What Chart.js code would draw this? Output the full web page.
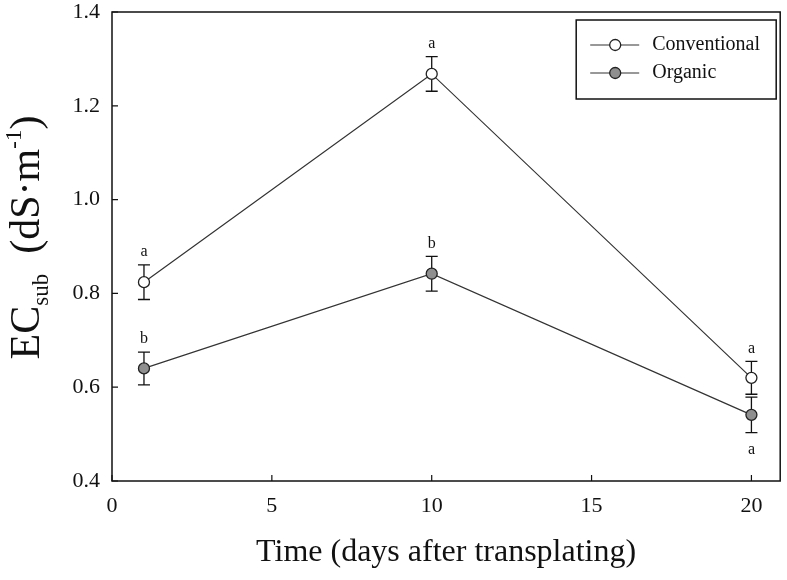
<!DOCTYPE html>
<html>
<head>
<meta charset="utf-8">
<script src="https://cdn.jsdelivr.net/npm/chart.js@4.4.0/dist/chart.umd.min.js"></script>
<style>
  html, body { margin: 0; padding: 0; background: #fff; }
</style>
</head>
<body>
<canvas id="chart" width="787" height="580"></canvas>
<script>
// values
const days = [1, 10, 20];
const conventional = [0.824, 1.268, 0.620];
const conventionalErr = [0.037, 0.037, 0.035];
const conventionalLetters = ['a', 'a', 'a'];
const organic = [0.640, 0.842, 0.541];
const organicErr = [0.035, 0.037, 0.038];
const organicLetters = ['b', 'b', 'a'];
const xTicks = [0, 5, 10, 15, 20];
const yTicks = [0.4, 0.6, 0.8, 1.0, 1.2, 1.4];

const SERIF = '"Liberation Serif", "DejaVu Serif", serif';
const INK = '#111';

function points(ys) {
    return days.map((d, i) => ({ x: d, y: ys[i] }));
}

// error bars + significance letters
const errorBars = {
    id: 'errorBars',
    beforeDatasetsDraw(chart) {
        const { ctx, scales: { x, y } } = chart;
        ctx.save();
        ctx.strokeStyle = INK;
        ctx.lineWidth = 1.3;
        chart.data.datasets.forEach(ds => {
            ds.data.forEach((p, i) => {
                const px = x.getPixelForValue(p.x);
                const top = y.getPixelForValue(p.y + ds.err[i]);
                const bot = y.getPixelForValue(p.y - ds.err[i]);
                ctx.beginPath();
                ctx.moveTo(px, top); ctx.lineTo(px, bot);
                ctx.moveTo(px - 6, top); ctx.lineTo(px + 6, top);
                ctx.moveTo(px - 6, bot); ctx.lineTo(px + 6, bot);
                ctx.stroke();
            });
        });
        ctx.restore();
    },
    afterDatasetsDraw(chart) {
        const { ctx, scales: { x, y } } = chart;
        const sets = chart.data.datasets;
        ctx.save();
        ctx.fillStyle = INK;
        ctx.font = '16px ' + SERIF;
        ctx.textAlign = 'center';
        ctx.textBaseline = 'middle';
        sets.forEach((ds, k) => {
            ds.data.forEach((p, i) => {
                const px = x.getPixelForValue(p.x);
                const top = y.getPixelForValue(p.y + ds.err[i]);
                const bot = y.getPixelForValue(p.y - ds.err[i]);
                // lower series: put letter underneath if its bar runs into the other point
                const other = sets[1 - k].data[i];
                const crowded = other.y > p.y && y.getPixelForValue(other.y) > top - 22;
                const ly = crowded ? bot + 17 : top - 13;
                ctx.fillText(ds.letters[i], px, ly);
            });
        });
        ctx.restore();
    }
};

// frame, inner ticks, axis titles, legend
const decor = {
    id: 'decor',
    afterDraw(chart) {
        const { ctx, chartArea: a, scales: { x, y } } = chart;
        ctx.save();
        ctx.strokeStyle = INK;
        ctx.lineWidth = 1.5;
        ctx.strokeRect(a.left, a.top, a.right - a.left, a.bottom - a.top);

        ctx.lineWidth = 1.2;
        ctx.beginPath();
        xTicks.forEach(v => {
            const px = x.getPixelForValue(v);
            ctx.moveTo(px, a.bottom); ctx.lineTo(px, a.bottom - 6);
        });
        yTicks.forEach(v => {
            const py = y.getPixelForValue(v);
            ctx.moveTo(a.left, py); ctx.lineTo(a.left + 6, py);
        });
        ctx.stroke();

        // x title
        ctx.fillStyle = INK;
        ctx.textAlign = 'center';
        ctx.textBaseline = 'middle';
        ctx.font = '32px ' + SERIF;
        ctx.fillText('Time (days after transplating)', (a.left + a.right) / 2, 553);

        // y title with sub/superscript
        const parts = [
            { t: 'EC', s: 42, dy: 0 },
            { t: 'sub', s: 23, dy: 9 },
            { t: '', s: 42, dy: 0, gap: 20 },
            { t: '(dS\u00b7m', s: 42, dy: 0 },
            { t: '-1', s: 23, dy: -18 },
            { t: ')', s: 42, dy: 0 }
        ];
        let total = 0;
        parts.forEach(p => {
            ctx.font = p.s + 'px ' + SERIF;
            p.w = ctx.measureText(p.t).width + (p.gap || 0);
            total += p.w;
        });
        ctx.translate(25, (a.top + a.bottom) / 2 - 9);
        ctx.rotate(-Math.PI / 2);
        ctx.textAlign = 'left';
        ctx.textBaseline = 'alphabetic';
        let cx = -total / 2;
        parts.forEach(p => {
            ctx.font = p.s + 'px ' + SERIF;
            ctx.fillText(p.t, cx, 14 + p.dy);
            cx += p.w;
        });
        ctx.restore();

        // legend
        ctx.save();
        const L = a.right - 204, T = a.top + 8;
        ctx.strokeStyle = INK;
        ctx.lineWidth = 1.5;
        ctx.strokeRect(L, T, 200, 79);
        ctx.font = '20px ' + SERIF;
        ctx.textAlign = 'left';
        ctx.textBaseline = 'middle';
        chart.data.datasets.forEach((ds, k) => {
            const ly = T + 25 + k * 28;
            ctx.strokeStyle = ds.borderColor;
            ctx.lineWidth = ds.borderWidth;
            ctx.beginPath();
            ctx.moveTo(L + 14, ly); ctx.lineTo(L + 63, ly);
            ctx.stroke();
            ctx.beginPath();
            ctx.arc(L + 39, ly, ds.pointRadius, 0, Math.PI * 2);
            ctx.fillStyle = ds.pointBackgroundColor;
            ctx.fill();
            ctx.strokeStyle = ds.pointBorderColor;
            ctx.lineWidth = ds.pointBorderWidth;
            ctx.stroke();
            ctx.fillStyle = INK;
            ctx.fillText(ds.label, L + 76, ly);
        });
        ctx.restore();
    }
};

const tickFont = { family: SERIF, size: 22, lineHeight: 1.1 };

new Chart(document.getElementById('chart'), {
    type: 'line',
    data: {
        datasets: [
            {
                label: 'Conventional',
                data: points(conventional),
                err: conventionalErr,
                letters: conventionalLetters,
                borderColor: '#333',
                borderWidth: 1.2,
                pointRadius: 5.5,
                pointBackgroundColor: '#fff',
                pointBorderColor: '#222',
                pointBorderWidth: 1.3,
                tension: 0
            },
            {
                label: 'Organic',
                data: points(organic),
                err: organicErr,
                letters: organicLetters,
                borderColor: '#333',
                borderWidth: 1.2,
                pointRadius: 5.5,
                pointBackgroundColor: '#8f8f8f',
                pointBorderColor: '#222',
                pointBorderWidth: 1.3,
                tension: 0
            }
        ]
    },
    options: {
        responsive: false,
        animation: false,
        devicePixelRatio: 1,
        layout: { padding: { top: 12, right: 6, left: 0, bottom: 0 } },
        plugins: { legend: { display: false }, tooltip: { enabled: false } },
        scales: {
            x: {
                type: 'linear',
                min: 0,
                max: 20.9,
                afterBuildTicks: s => { s.ticks = xTicks.map(v => ({ value: v })); },
                afterFit: s => { s.height = 99; },
                grid: { display: false, drawTicks: false },
                border: { display: false },
                ticks: { font: tickFont, color: INK, padding: 13, maxRotation: 0 }
            },
            y: {
                type: 'linear',
                min: 0.4,
                max: 1.4,
                afterBuildTicks: s => { s.ticks = yTicks.map(v => ({ value: v })); },
                afterFit: s => { s.width = 112; s.paddingTop = 0; s.paddingBottom = 0; },
                grid: { display: false, drawTicks: false },
                border: { display: false },
                ticks: { font: tickFont, color: INK, padding: 12, callback: v => v.toFixed(1) }
            }
        }
    },
    plugins: [errorBars, decor]
});
</script>
</body>
</html>
